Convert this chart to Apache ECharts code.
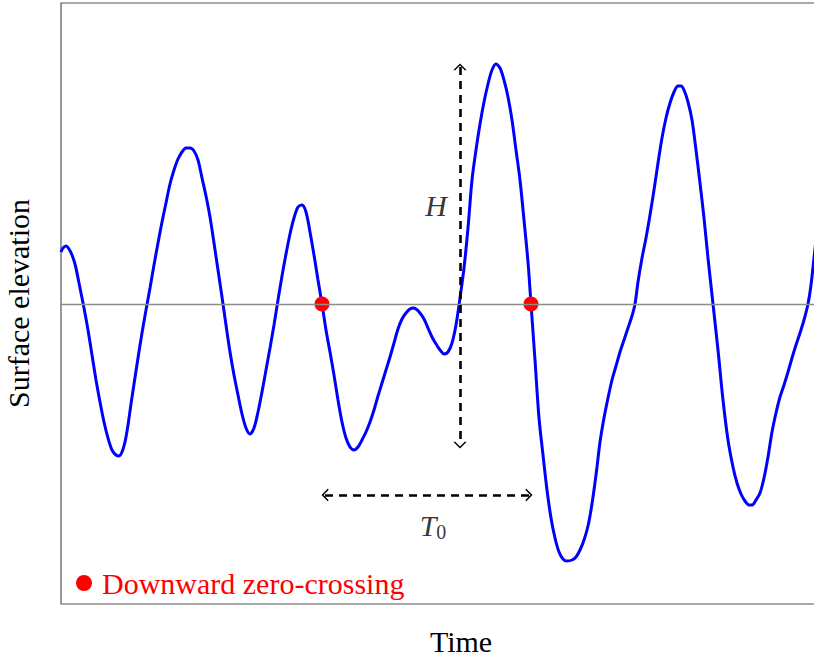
<!DOCTYPE html>
<html lang="en">
<head>
	<meta charset="UTF-8">
	<title>Zero-crossing wave</title>
	<script type="text/javascript" src="https://cdn.jsdelivr.net/npm/echarts@6/dist/echarts.min.js"></script>
	<style>
		html, body { margin: 0; padding: 0; background: #fff; }
		#chart_show { width: 814px; height: 657px; }
	</style>
</head>
<body>
	<div id="chart_show"></div>
	<script>
        // time in 0.1 s, elevation in cm
        var wave = [
            [0,52],[2,56],[5,58],[8,55],[11,49],[14,40],[17,26],[20,11],[23,-4],[27,-26],
            [31,-51],[35,-76],[39,-98],[43,-118],[47,-134],[51,-146],[55,-151],[58,-152],[61,-148],[64,-138],
            [67,-121],[70,-100],[73,-80],[77,-54],[81,-29],[85,-6],[89,16],[93,39],[97,61],[101,82],
            [105,101],[109,120],[113,134],[117,145],[121,152],[125,156],[129,156],[133,153],[137,144],[141,126],
            [145,108],[149,87],[153,61],[157,34],[161,7],[165,-21],[169,-48],[173,-71],[177,-91],[181,-110],
            [185,-124],[189,-130],[193,-124],[197,-108],[201,-88],[205,-66],[209,-44],[213,-21],[217,4],[221,28],
            [225,50],[229,70],[233,86],[237,97],[241,99],[245,92],[249,72],[253,49],[257,24],[261,0],
            [265,-26],[269,-48],[273,-71],[277,-96],[281,-118],[285,-134],[289,-143],[293,-146],[297,-143],[301,-136],
            [305,-128],[309,-118],[313,-106],[317,-92],[321,-79],[325,-66],[329,-53],[333,-39],[337,-25],[341,-15],
            [345,-9],[349,-5],[352,-4],[355,-5],[359,-9],[363,-15],[367,-24],[371,-33],[375,-40],[379,-46],
            [383,-50],[387,-48],[391,-39],[395,-21],[399,6],[403,36],[407,76],[411,124],[415,154],[419,180],
            [423,202],[427,220],[431,234],[435,240],[439,236],[443,224],[447,207],[451,184],[455,154],[459,124],
            [463,84],[467,42],[470,0],[474,-56],[478,-114],[482,-151],[486,-186],[490,-214],[494,-234],[498,-248],
            [502,-255],[506,-257],[511,-256],[515,-253],[519,-246],[523,-236],[527,-222],[530,-206],[533,-186],[536,-163],
            [539,-138],[543,-114],[547,-94],[551,-76],[555,-62],[559,-48],[563,-36],[567,-24],[571,-12],[574,0],
            [577,22],[581,46],[585,66],[589,89],[593,114],[597,141],[601,166],[605,186],[609,201],[613,212],
            [617,218],[620,218],[623,214],[627,202],[631,184],[635,154],[639,121],[643,86],[647,46],[652,0],
            [657,-46],[662,-96],[667,-136],[672,-163],[676,-179],[680,-190],[684,-197],[688,-201],[691,-201],[695,-196],
            [699,-189],[703,-174],[707,-153],[711,-128],[715,-109],[719,-93],[723,-81],[727,-68],[731,-54],[735,-41],
            [739,-29],[743,-16],[747,0],[750,19],[753,46],[756,74]
        ];
        var crossings = [[261, 0], [470, 0]];
        var heightArrow = [[399, 237], [399, -141]];
        var periodArrow = [[264, -191], [468, -191]];
        var labelH = [375, 99];
        var labelT = [372, -221];

        var serif = 'Liberation Serif';
        var chevron = 'path://M0,10 L5,0 L10,10 L8.9,10.9 L5,3.2 L1.1,10.9 Z';

        var oChart = echarts.init(document.getElementById('chart_show'), null, {renderer: 'svg'});
        var chartopt = {
            animation: false,
            grid: {
                left: 61, top: 3, bottom: 53, right: -47,
                outerBoundsMode: 'none', containLabel: false,
                show: true, borderColor: '#555', borderWidth: 1.2
            },
            legend: {
                data: [{name: 'Downward zero-crossing', icon: 'circle'}],
                left: 71, top: 563,
                itemWidth: 16, itemHeight: 16,
                textStyle: {color: '#ff0000', fontFamily: serif, fontSize: 30, padding: [0, 0, 0, 5]}
            },
            xAxis: {
                type: 'value', min: 0, max: 800,
                name: 'Time', nameLocation: 'middle', nameGap: 22,
                nameTextStyle: {color: '#000', fontFamily: serif, fontSize: 30},
                axisLine: {show: false}, axisTick: {show: false},
                axisLabel: {show: false}, splitLine: {show: false}
            },
            yAxis: {
                type: 'value', min: -300, max: 301,
                name: 'Surface elevation', nameLocation: 'middle', nameGap: 28, nameRotate: 90,
                nameTextStyle: {color: '#000', fontFamily: serif, fontSize: 30},
                axisLine: {show: false}, axisTick: {show: false},
                axisLabel: {show: false}, splitLine: {show: false}
            },
            series: [
                {
                    name: 'zero', type: 'line', data: [], z: 1,
                    markLine: {
                        silent: true, symbol: 'none', label: {show: false},
                        lineStyle: {color: '#8c8c8c', width: 1.3, type: 'solid'},
                        data: [{yAxis: 0}]
                    }
                },
                {
                    name: 'surface', type: 'line', data: wave, z: 2,
                    smooth: 0.3, showSymbol: false, symbol: 'none',
                    lineStyle: {color: '#0000ff', width: 3}
                },
                {
                    name: 'arrows', type: 'line', data: [], z: 3,
                    markLine: {
                        silent: true, symbol: [chevron, chevron], symbolSize: [13, 7],
                        label: {show: false},
                        lineStyle: {color: '#000', width: 2.6, type: [8, 6]},
                        itemStyle: {color: '#000'},
                        data: [
                            [{coord: heightArrow[0]}, {coord: heightArrow[1]}],
                            [{coord: periodArrow[0]}, {coord: periodArrow[1]}]
                        ]
                    }
                },
                {
                    name: 'Downward zero-crossing', type: 'scatter', data: crossings, z: 4,
                    symbol: 'circle', symbolSize: 15,
                    itemStyle: {color: '#ff0000', opacity: 1}
                },
                {
                    name: 'labels', type: 'scatter', z: 5, symbolSize: 0,
                    data: [
                        {value: labelH, label: {formatter: '{i|H}'}},
                        {value: labelT, label: {formatter: '{i|T}{s|0}'}}
                    ],
                    label: {
                        show: true, position: 'inside', color: '#000',
                        rich: {
                            i: {fontFamily: serif, fontStyle: 'italic', fontSize: 30, color: '#000'},
                            s: {fontFamily: serif, fontSize: 20, color: '#000', padding: [14, 0, 0, 0]}
                        }
                    }
                }
            ]
        };
        oChart.setOption(chartopt);
	</script>
</body>
</html>
